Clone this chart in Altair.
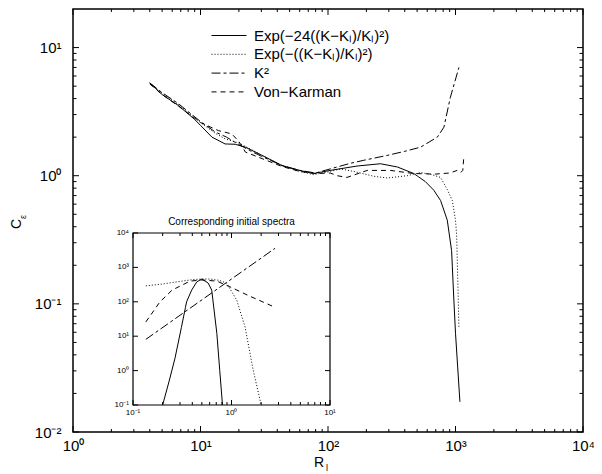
import altair as alt
import pandas as pd

# ---------------- data ----------------
SERIES = ["Exp(−24((K−Kₗ)/Kₗ)²)", "Exp(−((K−Kₗ)/Kₗ)²)", "K²", "Von−Karman"]

# main chart: C_eps vs R_l
a_x = [4.0, 5.0, 6.7, 9.0, 10.0, 12.3, 15.6, 18.7, 22.5, 30.0, 43.6, 60, 77, 104, 169, 258, 350, 471, 580, 676, 764, 862, 932, 971, 1000, 1083]
a_y = [5.3, 4.3, 3.53, 2.75, 2.47, 2.0, 1.77, 1.76, 1.67, 1.45, 1.2, 1.1, 1.04, 1.1, 1.19, 1.24, 1.17, 1.04, 0.9, 0.77, 0.64, 0.45, 0.26, 0.107, 0.059, 0.0172]

b_x = [4.0, 5.0, 6.7, 10, 13, 15.6, 20, 25, 30, 43.6, 60, 77, 104, 125, 159, 229, 291, 418, 532, 650, 764, 862, 944, 1000, 1020, 1064]
b_y = [5.3, 4.4, 3.6, 2.6, 2.15, 1.94, 1.8, 1.6, 1.45, 1.2, 1.08, 1.02, 1.08, 1.13, 1.08, 0.99, 0.96, 1.0, 1.06, 1.02, 0.97, 0.78, 0.64, 0.45, 0.35, 0.066]

c_x = [4.0, 5.0, 6.7, 10, 13, 16, 20, 25, 30, 43.6, 60, 80, 104, 150, 191, 291, 400, 532, 720, 811, 912, 1064]
c_y = [5.3, 4.45, 3.65, 2.65, 2.2, 2.0, 1.75, 1.55, 1.42, 1.2, 1.1, 1.05, 1.13, 1.25, 1.32, 1.44, 1.55, 1.67, 2.0, 2.39, 4.1, 7.0]

d_x = [4.0, 5.0, 6.7, 10, 13.8, 17.6, 20, 22.5, 30.4, 43.6, 60, 80, 104, 118, 141, 203, 309, 471, 700, 900, 1032, 1100, 1140, 1165]
d_y = [5.2, 4.3, 3.5, 2.6, 2.25, 2.12, 1.85, 1.53, 1.36, 1.18, 1.08, 1.04, 1.05, 1.0, 0.97, 1.1, 1.1, 1.04, 1.03, 1.05, 1.1, 1.06, 1.1, 1.44]

# inset: initial spectra
ia_x = [0.200, 0.233, 0.267, 0.31, 0.35, 0.394, 0.444, 0.50, 0.58, 0.63, 0.71, 0.76, 0.81]
ia_y = [0.1, 0.5, 2.3, 18, 100, 218, 380, 460, 350, 218, 12, 1.0, 0.1]

ib_x = [0.135, 0.2, 0.278, 0.4, 0.5, 0.6, 0.75, 0.89, 1.13, 1.37, 1.66, 2.0]
ib_y = [290, 330, 380, 440, 460, 460, 420, 350, 112, 19, 1.04, 0.1]

ic_x = [0.135, 2.77]
ic_y = [8.1, 3590]

id_x = [0.135, 0.188, 0.25, 0.38, 0.5, 0.71, 1.0, 1.5, 2.77]
id_y = [26, 100, 220, 400, 430, 400, 260, 150, 69]

MAIN_XDOM = [1, 10000]
MAIN_YDOM = [0.01, 20]
INS_XDOM = [0.1, 10]
INS_YDOM = [0.1, 10000]

x_major = [1, 10, 100, 1000, 10000]
x_minor = [m * 10 ** k for k in range(0, 4) for m in range(2, 10)]
y_major = [0.01, 0.1, 1, 10]
y_minor = [m * 10.0 ** k for k in range(-2, 1) for m in range(2, 10)]

ix_major = [0.1, 1, 10]
ix_minor = [m * 10.0 ** k for k in range(-1, 1) for m in range(2, 10)]
iy_major = [0.1, 1, 10, 100, 1000, 10000]
ix_labels = ["10⁻¹", "10⁰", "10¹"]
iy_labels = ["10⁻¹", "10⁰", "10¹", "10²", "10³", "10⁴"]

# ---------------- layout / style ----------------
W, H = 510, 423
FONT = "Liberation Sans"
DASHES = [[100, 0], [1, 2], [9, 3, 3, 3], [5, 4]]
IX0, IX1 = 60, 257      # inset plot area (pixels inside main plot)
IY0, IY1 = 396, 224

def long(xs, ys, name):
    return pd.DataFrame({"x": xs, "y": ys, "series": name})

main_df = pd.concat([long(a_x, a_y, SERIES[0]), long(b_x, b_y, SERIES[1]),
                     long(c_x, c_y, SERIES[2]), long(d_x, d_y, SERIES[3])])
ins_df = [long(ia_x, ia_y, SERIES[0]), long(ib_x, ib_y, SERIES[1]),
          long(ic_x, ic_y, SERIES[2]), long(id_x, id_y, SERIES[3])]

xs_main = alt.Scale(type="log", domain=MAIN_XDOM, nice=False)
ys_main = alt.Scale(type="log", domain=MAIN_YDOM, nice=False)

x_axis = alt.Axis(values=x_major, ticks=False, domain=False, grid=False, title=None,
                  labelFont=FONT, labelFontSize=15, labelColor="black", labelPadding=6,
                  labelFlush=False,
                  labelExpr="datum.value < 5 ? '10⁰' : datum.value < 50 ? '10¹' : datum.value < 500 ? '10²' : datum.value < 5000 ? '10³' : '10⁴'")
y_axis = alt.Axis(values=y_major, ticks=False, domain=False, grid=False, title=None,
                  labelFont=FONT, labelFontSize=15, labelColor="black", labelPadding=12,
                  labelFlush=False,
                  labelExpr="datum.value < 0.05 ? '10⁻²' : datum.value < 0.5 ? '10⁻¹' : datum.value < 5 ? '10⁰' : '10¹'")

X = lambda f: alt.X(f, scale=xs_main, axis=x_axis)
Y = lambda f: alt.Y(f, scale=ys_main, axis=y_axis)

lines = alt.Chart(main_df).mark_line(color="black", strokeWidth=1).encode(
    x=X("x:Q"), y=Y("y:Q"),
    strokeDash=alt.StrokeDash("series:N", scale=alt.Scale(domain=SERIES, range=DASHES),
                              legend=alt.Legend(title=None, orient="none", legendX=138, legendY=18,
                                                symbolType="stroke", symbolSize=1225,
                                                symbolStrokeColor="black", symbolStrokeWidth=1,
                                                labelFont=FONT, labelFontSize=15, labelColor="black",
                                                labelOffset=7, rowPadding=1.8, clipHeight=17)),
    detail="series:N",
)

def vdf(vals):
    return pd.DataFrame({"v": vals})

def xticks(vals, ln):
    bot = alt.Chart(vdf(vals)).mark_rule(color="black", strokeWidth=1).encode(
        x=X("v:Q"), y=alt.value(H), y2=alt.value(H - ln))
    top = alt.Chart(vdf(vals)).mark_rule(color="black", strokeWidth=1).encode(
        x=X("v:Q"), y=alt.value(0), y2=alt.value(ln))
    return [bot, top]

def yticks(vals, ln):
    lef = alt.Chart(vdf(vals)).mark_rule(color="black", strokeWidth=1).encode(
        y=Y("v:Q"), x=alt.value(0), x2=alt.value(ln))
    rig = alt.Chart(vdf(vals)).mark_rule(color="black", strokeWidth=1).encode(
        y=Y("v:Q"), x=alt.value(W), x2=alt.value(W - ln))
    return [lef, rig]

def label(txt, x, y, size, angle=0):
    return alt.Chart(pd.DataFrame({"t": [txt]})).mark_text(
        font=FONT, fontSize=size, color="black", angle=angle, align="center", baseline="middle"
    ).encode(text="t:N", x=alt.value(x), y=alt.value(y))

main = alt.layer(
    lines,
    *xticks(x_major, 6), *xticks(x_minor, 3),
    *yticks(y_major, 6), *yticks(y_minor, 3.5),
    label("C", -56, 215, 14, 270), label("ε", -50, 208, 9, 270),
    label("R", 246, 454, 14), label("l", 254, 459, 9),
)

# ---------------- inset ----------------
xs_in = alt.Scale(type="log", domain=INS_XDOM, range=[IX0, IX1], nice=False)
ys_in = alt.Scale(type="log", domain=INS_YDOM, range=[IY0, IY1], nice=False)
IXe = lambda f: alt.X(f, scale=xs_in, axis=None)
IYe = lambda f: alt.Y(f, scale=ys_in, axis=None)

frame = alt.Chart(pd.DataFrame({"x": [INS_XDOM[0]], "x2": [INS_XDOM[1]],
                                "y": [INS_YDOM[0]], "y2": [INS_YDOM[1]]})).mark_rect(
    fill="white", stroke="black", strokeWidth=1.2).encode(
    x=IXe("x:Q"), x2="x2:Q", y=IYe("y:Q"), y2="y2:Q")

ins_lines = [alt.Chart(d).mark_line(color="black", strokeWidth=1, strokeDash=DASHES[i]).encode(
    x=IXe("x:Q"), y=IYe("y:Q")) for i, d in enumerate(ins_df)]

def ixt(vals, ln):
    return [alt.Chart(vdf(vals)).mark_rule(color="black", strokeWidth=1).encode(
                x=IXe("v:Q"), y=alt.value(IY0), y2=alt.value(IY0 - ln)),
            alt.Chart(vdf(vals)).mark_rule(color="black", strokeWidth=1).encode(
                x=IXe("v:Q"), y=alt.value(IY1), y2=alt.value(IY1 + ln))]

def iyt(vals, ln):
    return [alt.Chart(vdf(vals)).mark_rule(color="black", strokeWidth=1).encode(
                y=IYe("v:Q"), x=alt.value(IX0), x2=alt.value(IX0 + ln)),
            alt.Chart(vdf(vals)).mark_rule(color="black", strokeWidth=1).encode(
                y=IYe("v:Q"), x=alt.value(IX1), x2=alt.value(IX1 - ln))]

ixl = alt.Chart(pd.DataFrame({"v": ix_major, "t": ix_labels})).mark_text(
    font=FONT, fontSize=8, color="black", baseline="middle", align="center").encode(
    x=IXe("v:Q"), y=alt.value(IY0 + 8), text="t:N")
iyl = alt.Chart(pd.DataFrame({"v": iy_major, "t": iy_labels})).mark_text(
    font=FONT, fontSize=8, color="black", baseline="middle", align="right").encode(
    y=IYe("v:Q"), x=alt.value(IX0 - 4), text="t:N")

ins_title = label("Corresponding initial spectra", (IX0 + IX1) / 2, IY1 - 11, 10)

inset = alt.layer(frame, *ins_lines, *ixt(ix_major, 5), *ixt(ix_minor, 3),
                  *iyt(iy_major, 5), ixl, iyl, ins_title)

chart = alt.layer(main, inset).resolve_scale(x="independent", y="independent").properties(
    width=W, height=H,
    padding={"left": 65, "top": 1, "right": 11, "bottom": 42},
    autosize=alt.AutoSizeParams(type="none"),
).configure_view(stroke="black", strokeWidth=1.5)

chart.save("out.html", embed_options={"renderer": "svg", "actions": False})
